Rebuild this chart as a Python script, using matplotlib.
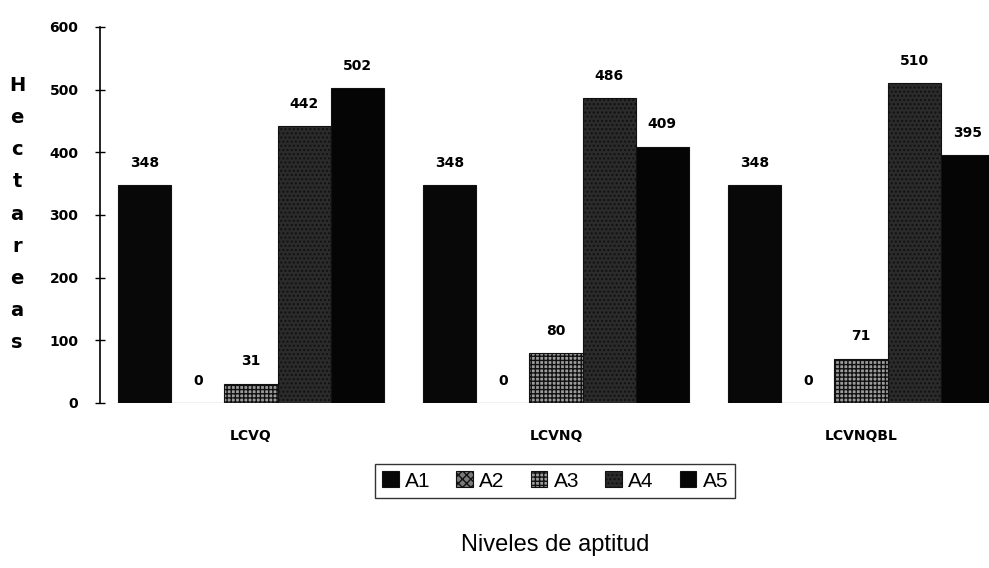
import matplotlib
matplotlib.use("Agg")
import matplotlib.pyplot as plt
import numpy as np

categories = ["LCVQ", "LCVNQ", "LCVNQBL"]
series_names = ["A1", "A2", "A3", "A4", "A5"]
A1 = [348, 348, 348]
A2 = [0, 0, 0]
A3 = [31, 80, 71]
A4 = [442, 486, 510]
A5 = [502, 409, 395]
series_values = [A1, A2, A3, A4, A5]
yticks = [0, 100, 200, 300, 400, 500, 600]

face = ["#080808", "#7a7a7a", "#9c9c9c", "#2b2b2b", "#050505"]
hatches = [None, "xxxx", "++++", "....", None]

plt.rcParams["font.family"] = ["Liberation Sans", "DejaVu Sans"]
numfont = ["DejaVu Sans"]

fig = plt.figure(figsize=(9.89, 5.68), dpi=100)
ax = fig.add_axes([0.1011, 0.2905, 0.899, 0.662])

w = 0.174
x = np.arange(len(categories))
for i, (name, vals) in enumerate(zip(series_names, series_values)):
    pos = x + (i - 2) * w
    ax.bar(pos, vals, width=w, color=face[i], edgecolor="#111111",
           linewidth=0.8, hatch=hatches[i], label=name)
    for p, v in zip(pos, vals):
        ax.annotate(f"{v}", (p, v), xytext=(0, 11), textcoords="offset points",
                    ha="center", va="bottom", fontsize=10, fontweight="bold",
                    family=numfont)

ax.set_xlim(-0.495, 2.42)
ax.set_ylim(0, 600)
ax.set_yticks(yticks)
ax.set_yticklabels([str(t) for t in yticks], fontsize=10, fontweight="bold",
                   family=numfont)
ax.tick_params(axis="y", direction="inout", length=7, width=1, pad=12)
ax.set_xticks(x)
ax.set_xticklabels(categories, fontsize=10, fontweight="bold", family=numfont)
ax.tick_params(axis="x", length=0, pad=19)
for s in ["top", "right", "bottom"]:
    ax.spines[s].set_visible(False)
ax.spines["left"].set_linewidth(1.2)

fig.text(17 / 989, 1 - 214 / 568, "\n".join("Hectareas"), ha="center", va="center",
         fontsize=14, fontweight="bold", linespacing=1.88, family=numfont)

leg = fig.legend(loc="center", bbox_to_anchor=(555 / 989, 1 - 481 / 568), ncol=5,
                 fontsize=15, frameon=True, fancybox=False, edgecolor="black",
                 handlelength=0.8, handleheight=0.8, handletextpad=0.3,
                 columnspacing=1.25, borderpad=0.35)
leg.get_frame().set_linewidth(1.0)

fig.text(555 / 989, 1 - 545 / 568, "Niveles de aptitud", ha="center", va="center",
         fontsize=17)

fig.savefig("out.png", dpi=100, facecolor="white")
